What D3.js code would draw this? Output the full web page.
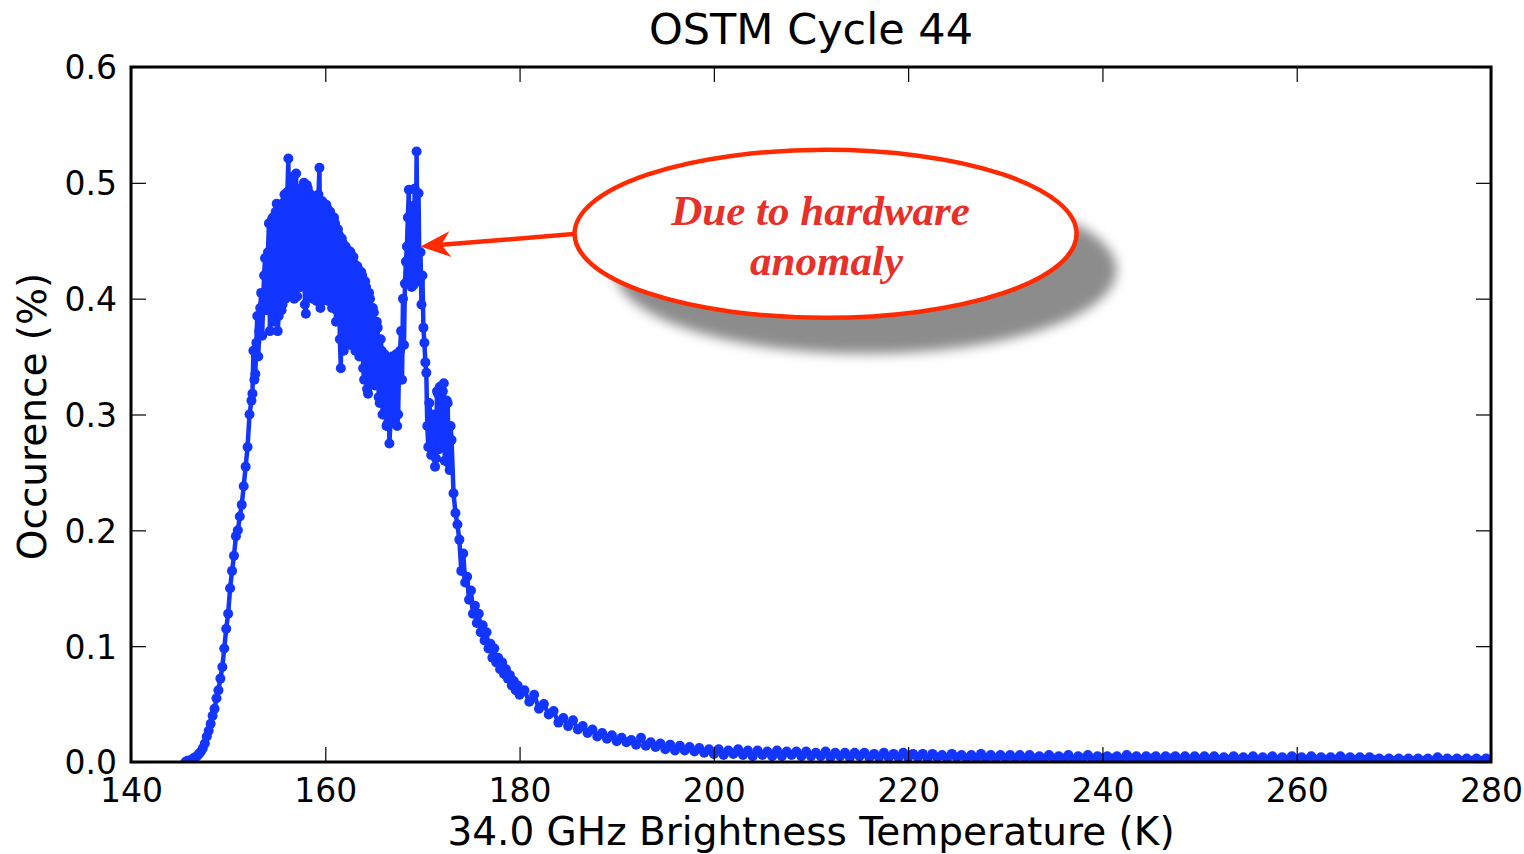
<!DOCTYPE html>
<html>
<head>
<meta charset="utf-8">
<script src="https://cdn.jsdelivr.net/npm/d3@7"></script>
<style>
  html, body { margin: 0; padding: 0; background: #fff; }
  svg { display: block; }
  text { font-family: "DejaVu Sans", sans-serif; }
</style>
</head>
<body>
<svg id="chart" width="1524" height="854"></svg>
<script>
// Histogram of 34.0 GHz brightness temperature, OSTM cycle 44.
// Each entry: [brightness temperature (K), occurrence (%)]

// rising edge, 0.2 K bins
const onsetBins = [
  [145.6,0.000],[145.8,0.001],[146.0,0.001],[146.2,0.002],[146.4,0.003],[146.6,0.004],
  [146.8,0.005],[147.0,0.007],[147.2,0.009],[147.4,0.012],[147.6,0.016],[147.8,0.022],
  [148.0,0.027],[148.2,0.033],[148.4,0.040],[148.6,0.046],[148.8,0.055],[149.0,0.062],
  [149.2,0.072],[149.4,0.082],[149.6,0.098],[149.8,0.115],[150.0,0.128],[150.2,0.150],
  [150.4,0.165],[150.6,0.178],[150.8,0.195],[151.0,0.200],[151.2,0.212],[151.4,0.222],
  [151.6,0.238],[151.8,0.255],[152.0,0.272],[152.2,0.300],[152.4,0.312]
];

// main peak, 0.1 K bins
const mainPeakBins = [
  [152.5,0.318],[152.6,0.355],[152.7,0.330],[152.8,0.335],[152.9,0.362],[153.0,0.385],
  [153.1,0.350],[153.2,0.372],[153.3,0.392],[153.4,0.405],[153.5,0.368],[153.6,0.395],
  [153.7,0.420],[153.8,0.435],[153.9,0.390],[154.0,0.412],[154.1,0.440],[154.2,0.465],
  [154.3,0.372],[154.4,0.398],[154.5,0.468],[154.6,0.470],[154.7,0.380],[154.8,0.430],
  [154.9,0.475],[155.0,0.482],[155.1,0.372],[155.2,0.385],[155.3,0.478],[155.4,0.470],
  [155.5,0.390],[155.6,0.395],[155.7,0.483],[155.8,0.490],[155.9,0.400],[156.0,0.430],
  [156.1,0.492],[156.2,0.521],[156.3,0.405],[156.4,0.442],[156.5,0.498],[156.6,0.505],
  [156.7,0.410],[156.8,0.400],[156.9,0.488],[157.0,0.508],[157.1,0.402],[157.2,0.425],
  [157.3,0.495],[157.4,0.488],[157.5,0.410],[157.6,0.440],[157.7,0.492],[157.8,0.500],
  [157.9,0.395],[158.0,0.387],[158.1,0.498],[158.2,0.495],[158.3,0.405],[158.4,0.445],
  [158.5,0.490],[158.6,0.488],[158.7,0.400],[158.8,0.420],[158.9,0.486],[159.0,0.485],
  [159.1,0.398],[159.2,0.433],[159.3,0.490],[159.4,0.513],[159.5,0.392],[159.6,0.398],
  [159.7,0.484],[159.8,0.480],[159.9,0.400],[160.0,0.425],[160.1,0.481],[160.2,0.478],
  [160.3,0.398],[160.4,0.415],[160.5,0.475],[160.6,0.470],[160.7,0.392],[160.8,0.420],
  [160.9,0.470],[161.0,0.465],[161.1,0.380],[161.2,0.390],[161.3,0.460],[161.4,0.455],
  [161.5,0.365],[161.6,0.340],[161.7,0.452],[161.8,0.448],[161.9,0.355],[162.0,0.395],
  [162.1,0.445],[162.2,0.442],[162.3,0.360],[162.4,0.385],[162.5,0.441],[162.6,0.440],
  [162.7,0.360],[162.8,0.400],[162.9,0.436],[163.0,0.430],[163.1,0.355],[163.2,0.372],
  [163.3,0.428],[163.4,0.425],[163.5,0.350],[163.6,0.385],[163.7,0.423],[163.8,0.420],
  [163.9,0.340],[164.0,0.330],[164.1,0.415],[164.2,0.410],[164.3,0.322],[164.4,0.318],
  [164.5,0.405],[164.6,0.400],[164.7,0.330],[164.8,0.345],[164.9,0.392],[165.0,0.388],
  [165.1,0.325],[165.2,0.330],[165.3,0.380],[165.4,0.375],[165.5,0.315],[165.6,0.310],
  [165.7,0.365],[165.8,0.355],[165.9,0.300],[166.0,0.300],[166.1,0.352],[166.2,0.345],
  [166.3,0.290],[166.4,0.292],[166.5,0.348],[166.6,0.275],[166.7,0.292],[166.8,0.340],
  [166.9,0.350],[167.0,0.298],[167.1,0.295],[167.2,0.350],[167.3,0.352],[167.4,0.290],
  [167.5,0.300],[167.6,0.345],[167.7,0.355]
];

// hardware anomaly spike, 0.1 K bins
const anomalyBins = [
  [167.8,0.372],[167.9,0.330],[168.0,0.400],[168.1,0.360],[168.2,0.413],[168.3,0.432],
  [168.4,0.445],[168.5,0.470],[168.6,0.494],[168.7,0.415],[168.8,0.470],[168.9,0.410],
  [169.0,0.480],[169.1,0.412],[169.2,0.495],[169.3,0.420],[169.4,0.527],[169.5,0.430],
  [169.6,0.491],[169.7,0.415],[169.8,0.440],[169.9,0.395],[170.0,0.420],[170.1,0.375],
  [170.2,0.362],[170.3,0.345],[170.4,0.336],[170.5,0.290],[170.6,0.272],[170.7,0.310],
  [170.8,0.300],[170.9,0.265],[171.0,0.275],[171.1,0.300],[171.2,0.295],[171.3,0.255],
  [171.4,0.262],[171.5,0.320],[171.6,0.318],[171.7,0.270],[171.8,0.324],[171.9,0.280],
  [172.0,0.275],[172.1,0.320],[172.2,0.327],[172.3,0.260],[172.4,0.282],[172.5,0.312],
  [172.6,0.310],[172.7,0.258],[172.8,0.252],[172.9,0.290],[173.0,0.278]
];

// falling edge, 0.2 K then 0.5 K bins
const decayBins = [
  [173.2,0.232],[173.4,0.215],[173.6,0.205],[173.8,0.192],[174.0,0.165],[174.2,0.180],
  [174.4,0.155],[174.6,0.160],[174.8,0.140],[175.0,0.148],[175.2,0.128],[175.4,0.135],
  [175.6,0.120],[175.8,0.128],[176.0,0.112],[176.2,0.118],[176.4,0.105],[176.6,0.112],
  [176.8,0.098],[177.0,0.102],[177.2,0.090],[177.4,0.098],[177.6,0.086],[177.8,0.090],
  [178.0,0.080],[178.2,0.086],[178.4,0.076],[178.6,0.080],[178.8,0.072],[179.0,0.075],
  [179.2,0.066],[179.4,0.070],[179.6,0.062],[179.8,0.066],[180.0,0.058],
  [180.5,0.062],[181.0,0.052],[181.5,0.058],[182.0,0.046],[182.5,0.050],[183.0,0.041],
  [183.5,0.044],[184.0,0.034],[184.5,0.038],[185.0,0.031],[185.5,0.036],[186.0,0.028],
  [186.5,0.031],[187.0,0.025],[187.5,0.028],[188.0,0.022],[188.5,0.025],[189.0,0.020],
  [189.5,0.023],[190.0,0.018],[190.5,0.021],[191.0,0.017],[191.5,0.019],[192.0,0.015],
  [192.5,0.021],[193.0,0.014],[193.5,0.017],[194.0,0.013],[194.5,0.016],[195.0,0.011],
  [195.5,0.015],[196.0,0.010],[196.5,0.014],[197.0,0.010],[197.5,0.013],[198.0,0.009],
  [198.5,0.012],[199.0,0.008],[199.5,0.011],[200.0,0.007]
];

// warm tail, 0.5 K bins
const tailBins = [
  [200.5,0.011],[201.0,0.006],[201.5,0.010],[202.0,0.007],[202.5,0.011],[203.0,0.006],
  [203.5,0.010],[204.0,0.005],[204.5,0.010],[205.0,0.006],[205.5,0.009],[206.0,0.005],
  [206.5,0.010],[207.0,0.005],[207.5,0.009],[208.0,0.006],[208.5,0.009],[209.0,0.005],
  [209.5,0.009],[210.0,0.005],[210.5,0.008],[211.0,0.005],[211.5,0.009],[212.0,0.004],
  [212.5,0.008],[213.0,0.005],[213.5,0.008],[214.0,0.004],[214.5,0.008],[215.0,0.005],
  [215.5,0.008],[216.0,0.004],[216.5,0.007],[217.0,0.004],[217.5,0.008],[218.0,0.004],
  [218.5,0.007],[219.0,0.004],[219.5,0.008],[220.0,0.004],[220.5,0.007],[221.0,0.004],
  [221.5,0.007],[222.0,0.003],[222.5,0.007],[223.0,0.004],[223.5,0.006],[224.0,0.003],
  [224.5,0.007],[225.0,0.004],[225.5,0.006],[226.0,0.003],[226.5,0.006],[227.0,0.003],
  [227.5,0.007],[228.0,0.003],[228.5,0.006],[229.0,0.003],[229.5,0.006],[230.0,0.003],
  [230.5,0.006],[231.0,0.003],[231.5,0.006],[232.0,0.003],[232.5,0.006],[233.0,0.003],
  [233.5,0.005],[234.0,0.003],[234.5,0.006],[235.0,0.003],[235.5,0.005],[236.0,0.003],
  [236.5,0.006],[237.0,0.002],[237.5,0.005],[238.0,0.003],[238.5,0.006],[239.0,0.003],
  [239.5,0.005],[240.0,0.003],[240.5,0.005],[241.0,0.003],[241.5,0.005],[242.0,0.002],
  [242.5,0.006],[243.0,0.003],[243.5,0.005],[244.0,0.002],[244.5,0.005],[245.0,0.003],
  [245.5,0.005],[246.0,0.002],[246.5,0.005],[247.0,0.003],[247.5,0.005],[248.0,0.002],
  [248.5,0.005],[249.0,0.002],[249.5,0.005],[250.0,0.002],[250.5,0.005],[251.0,0.002],
  [251.5,0.005],[252.0,0.002],[252.5,0.004],[253.0,0.002],[253.5,0.005],[254.0,0.002],
  [254.5,0.004],[255.0,0.002],[255.5,0.005],[256.0,0.002],[256.5,0.004],[257.0,0.002],
  [257.5,0.005],[258.0,0.002],[258.5,0.004],[259.0,0.002],[259.5,0.005],[260.0,0.002],
  [260.5,0.004],[261.0,0.002],[261.5,0.005],[262.0,0.002],[262.5,0.004],[263.0,0.002],
  [263.5,0.004],[264.0,0.002],[264.5,0.005],[265.0,0.002],[265.5,0.004],[266.0,0.002],
  [266.5,0.004],[267.0,0.002],[267.5,0.004],[268.0,0.002],[268.5,0.003],[269.0,0.001],
  [269.5,0.003],[270.0,0.001],[270.5,0.003],[271.0,0.001],[271.5,0.003],[272.0,0.001],
  [272.5,0.003],[273.0,0.001],[273.5,0.003],[274.0,0.001],[274.5,0.004],[275.0,0.001],
  [275.5,0.003],[276.0,0.001],[276.5,0.003],[277.0,0.001],[277.5,0.003],[278.0,0.001],
  [278.5,0.003],[279.0,0.001],[279.5,0.003],[280.0,0.001]
];

const xTicks = [140, 160, 180, 200, 220, 240, 260, 280];
const yTicks = [0.0, 0.1, 0.2, 0.3, 0.4, 0.5, 0.6];

const titleText = "OSTM Cycle 44";
const xLabelText = "34.0 GHz Brightness Temperature (K)";
const yLabelText = "Occurence (%)";
const noteLines = ["Due to hardware", "anomaly"];
// note bubble centre and arrow tip, in data units
const noteCentre = [211.5, 0.456];
const noteTarget = [169.8, 0.445];

const series = [...onsetBins, ...mainPeakBins, ...anomalyBins, ...decayBins, ...tailBins];

const plot = { left: 131, right: 1491, top: 67, bottom: 762 };

const svg = d3.select("#chart");
const x = d3.scaleLinear().domain([140, 280]).range([plot.left, plot.right]);
const y = d3.scaleLinear().domain([0, 0.6]).range([plot.bottom, plot.top]);

const defs = svg.append("defs");
defs.append("clipPath").attr("id", "plotClip")
  .append("rect")
  .attr("x", plot.left).attr("y", plot.top)
  .attr("width", plot.right - plot.left).attr("height", plot.bottom - plot.top);
const blur = defs.append("filter").attr("id", "shadowBlur")
  .attr("x", "-20%").attr("y", "-30%").attr("width", "140%").attr("height", "160%");
blur.append("feGaussianBlur").attr("stdDeviation", 6);

// data line with dot markers
const blue = "#1235ff";
const dataG = svg.append("g").attr("clip-path", "url(#plotClip)");
dataG.append("path")
  .datum(series)
  .attr("fill", "none")
  .attr("stroke", blue)
  .attr("stroke-width", 4.5)
  .attr("stroke-linejoin", "round")
  .attr("d", d3.line().x(d => x(d[0])).y(d => y(d[1])));
dataG.append("g").selectAll("circle")
  .data(series)
  .join("circle")
  .attr("cx", d => x(d[0]))
  .attr("cy", d => y(d[1]))
  .attr("r", 5)
  .attr("fill", blue);

// axes: ticks point inward on all four sides
const tickLen = 15;
const fmtY = d3.format(".1f");
const axB = svg.append("g").attr("transform", `translate(0,${plot.bottom})`)
  .call(d3.axisBottom(x).tickValues(xTicks).tickSize(-tickLen).tickPadding(15).tickFormat(d3.format("d")));
const axT = svg.append("g").attr("transform", `translate(0,${plot.top})`)
  .call(d3.axisTop(x).tickValues(xTicks).tickSize(-tickLen).tickFormat(""));
const axL = svg.append("g").attr("transform", `translate(${plot.left},0)`)
  .call(d3.axisLeft(y).tickValues(yTicks).tickSize(-tickLen).tickPadding(14).tickFormat(fmtY));
const axR = svg.append("g").attr("transform", `translate(${plot.right},0)`)
  .call(d3.axisRight(y).tickValues(yTicks).tickSize(-tickLen).tickFormat(""));
[axB, axT, axL, axR].forEach(a => {
  a.select(".domain").remove();
  a.selectAll(".tick line").attr("stroke", "#000").attr("stroke-width", 1.2);
  a.selectAll(".tick text")
    .style("font-family", "DejaVu Sans").style("font-size", "33px").style("fill", "#000");
});
axB.selectAll(".tick text").attr("dy", "0.76em");
axL.selectAll(".tick text").attr("dy", "0.36em");

// frame
svg.append("rect")
  .attr("x", plot.left).attr("y", plot.top)
  .attr("width", plot.right - plot.left).attr("height", plot.bottom - plot.top)
  .attr("fill", "none").attr("stroke", "#000").attr("stroke-width", 3);

// titles
svg.append("text")
  .attr("x", (plot.left + plot.right) / 2).attr("y", 44)
  .attr("text-anchor", "middle")
  .style("font-size", "43px").style("fill", "#000")
  .text(titleText);
svg.append("text")
  .attr("x", (plot.left + plot.right) / 2).attr("y", 845)
  .attr("text-anchor", "middle")
  .style("font-size", "39px").style("fill", "#000")
  .text(xLabelText);
svg.append("text")
  .attr("transform", `translate(46,${(plot.top + plot.bottom) / 2 + 2}) rotate(-90)`)
  .attr("text-anchor", "middle")
  .style("font-size", "39px").style("fill", "#000")
  .text(yLabelText);

// annotation bubble with drop shadow and arrow
const red = "#ff2a00";
const cx = x(noteCentre[0]), cy = y(noteCentre[1]);
const rx = 251, ry = 84;
const note = svg.append("g");
note.append("ellipse")
  .attr("cx", cx + 40).attr("cy", cy + 36)
  .attr("rx", rx).attr("ry", ry)
  .attr("fill", "#8c8c8c")
  .attr("filter", "url(#shadowBlur)");

const tipX = x(noteTarget[0]), tipY = y(noteTarget[1]);
const startX = cx - rx + 2, startY = cy;
const ang = Math.atan2(tipY - startY, tipX - startX);
const headLen = 30, headHalf = 13, notch = 9;
const ux = Math.cos(ang), uy = Math.sin(ang), px = -uy, py = ux;
const baseX = tipX - ux * headLen, baseY = tipY - uy * headLen;
note.append("line")
  .attr("x1", startX).attr("y1", startY)
  .attr("x2", tipX - ux * (headLen - notch)).attr("y2", tipY - uy * (headLen - notch))
  .attr("stroke", red).attr("stroke-width", 4.5);
note.append("path")
  .attr("d", `M${tipX},${tipY}
    L${baseX + px * headHalf},${baseY + py * headHalf}
    L${tipX - ux * (headLen - notch)},${tipY - uy * (headLen - notch)}
    L${baseX - px * headHalf},${baseY - py * headHalf}Z`)
  .attr("fill", red);

note.append("ellipse")
  .attr("cx", cx).attr("cy", cy)
  .attr("rx", rx).attr("ry", ry)
  .attr("fill", "#fff")
  .attr("stroke", red).attr("stroke-width", 4.5);
note.append("text")
  .attr("x", cx).attr("y", cy)
  .attr("text-anchor", "middle")
  .style("font-family", "'Liberation Serif', 'Times New Roman', serif")
  .style("font-weight", "bold").style("font-style", "italic")
  .style("font-size", "43px")
  .style("fill", "#e8302a")
  .selectAll("tspan")
  .data(noteLines)
  .join("tspan")
  .attr("x", (d, i) => i === 0 ? cx - 5 : cx + 1)
  .attr("dy", (d, i) => i === 0 ? "-0.2em" : "1.15em")
  .text(d => d);
</script>
</body>
</html>
